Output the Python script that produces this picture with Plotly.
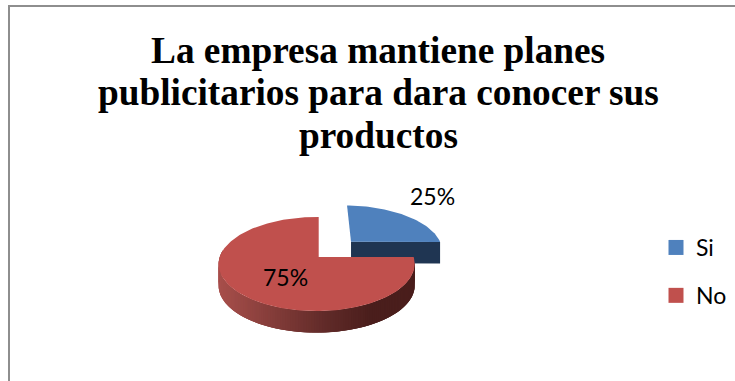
import numpy as np
import plotly.graph_objects as go

# Chart content
TITLE_LINES = ["La empresa mantiene planes", "publicitarios para dara conocer sus", "productos"]
categories = ["Si", "No"]
shares = [25, 75]
top_colors = ["#4F81BD", "#C0504D"]
blue_wall = "#1F3552"
red_side_stops = [(0.0, (168, 79, 75)), (0.55, (96, 42, 40)), (0.78, (74, 30, 28)), (1.0, (74, 30, 28))]

# Tilted-disc projection of the pie
VX, VY = 318.7, 257.0
A, B = 96.9, 46.0
KV, KU = 0.149, 0.0206
DEPTH = 21.5
EXPLODE = 0.5


def project(u, v):
    w = 1 + KV * v + KU * u
    return VX + A * u / w, VY - B * v / w


def side_color(t):
    for (t0, c0), (t1, c1) in zip(red_side_stops, red_side_stops[1:]):
        if t <= t1:
            f = (t - t0) / (t1 - t0)
            return "rgb(%d,%d,%d)" % tuple(round(a + (b - a) * f) for a, b in zip(c0, c1))
    return "rgb(%d,%d,%d)" % red_side_stops[-1][1]


fig = go.Figure()


def add_poly(xs, ys, color):
    fig.add_trace(go.Scatter(x=list(xs), y=list(ys), mode="lines", fill="toself", fillcolor=color,
                             line=dict(width=0), hoverinfo="skip", showlegend=False))


total = sum(shares)
blue_end = 2 * np.pi * shares[0] / total
t_red = np.linspace(blue_end, 2 * np.pi, 200)
rx, ry = project(np.sin(t_red), np.cos(t_red))

# Rim of the large slice, painted right to left so each strip covers the seam of the one before
front = np.where(t_red <= 1.5 * np.pi + 0.15)[0]
xmin, xmax = rx[front].min(), rx[front].max()
for i in front[:-1]:
    k = min(i + 3, front[-1])
    f = ((rx[i] + rx[i + 1]) / 2 - xmin) / (xmax - xmin)
    add_poly([rx[i], rx[k], rx[k], rx[i]], [ry[i], ry[k], ry[k] + DEPTH, ry[i] + DEPTH], side_color(f))

# Small slice, pushed out along its bisector
mid = blue_end / 2
eu, ev = EXPLODE * np.sin(mid), EXPLODE * np.cos(mid)
t_blue = np.linspace(0, blue_end, 60)
bu = np.concatenate([[eu], eu + np.sin(t_blue)])
bv = np.concatenate([[ev], ev + np.cos(t_blue)])
bx, by = project(bu, bv)
hx, hy = project(np.array([eu, eu + 1.0]), np.array([ev, ev]))
add_poly([hx[0], hx[1], hx[1], hx[0]], [hy[0], hy[1], hy[1] + DEPTH, hy[0] + DEPTH], blue_wall)
add_poly(bx, by, top_colors[0])

# Top of the large slice
ru = np.concatenate([[0], np.sin(t_red)])
rv = np.concatenate([[0], np.cos(t_red)])
tx, ty = project(ru, rv)
add_poly(tx, ty, top_colors[1])

# Legend entries
for name, color in zip(categories, top_colors):
    fig.add_trace(go.Scatter(x=[None], y=[None], mode="markers", name=name, legendgroup=name,
                             marker=dict(symbol="square", size=15, color=color)))

annotations = []
for line, y in zip(TITLE_LINES, [62, 104.5, 147]):
    annotations.append(dict(text=f"<b>{line}</b>", x=378, y=y, xref="x", yref="y", showarrow=False,
                            yanchor="bottom", yshift=-11,
                            font=dict(family="Liberation Serif", size=37.3, color="#000000")))
annotations.append(dict(text=f"{shares[0]}%", x=432, y=196, xref="x", yref="y", showarrow=False,
                        font=dict(family="Lato", size=23, color="#000000")))
annotations.append(dict(text=f"{shares[1]}%", x=285, y=276.5, xref="x", yref="y", showarrow=False,
                        font=dict(family="Lato", size=23, color="#000000")))

frame = dict(color="#8E8E8E", width=2)
fig.update_layout(
    width=735, height=381, margin=dict(l=0, r=0, t=0, b=0),
    paper_bgcolor="#ffffff", plot_bgcolor="#ffffff",
    xaxis=dict(range=[0, 735], visible=False, fixedrange=True),
    yaxis=dict(range=[381, 0], visible=False, fixedrange=True),
    annotations=annotations,
    shapes=[dict(type="line", xref="x", yref="y", x0=9, y0=5, x1=9, y1=381, line=frame, layer="below"),
            dict(type="line", xref="x", yref="y", x0=8, y0=6, x1=735, y1=6, line=frame, layer="below")],
    legend=dict(x=656 / 735, y=1 - 226 / 381, xanchor="left", yanchor="top", tracegroupgap=15,
                itemwidth=30, bgcolor="rgba(0,0,0,0)",
                font=dict(family="Lato", size=23, color="#000000")),
)
fig.write_html("out.html")
